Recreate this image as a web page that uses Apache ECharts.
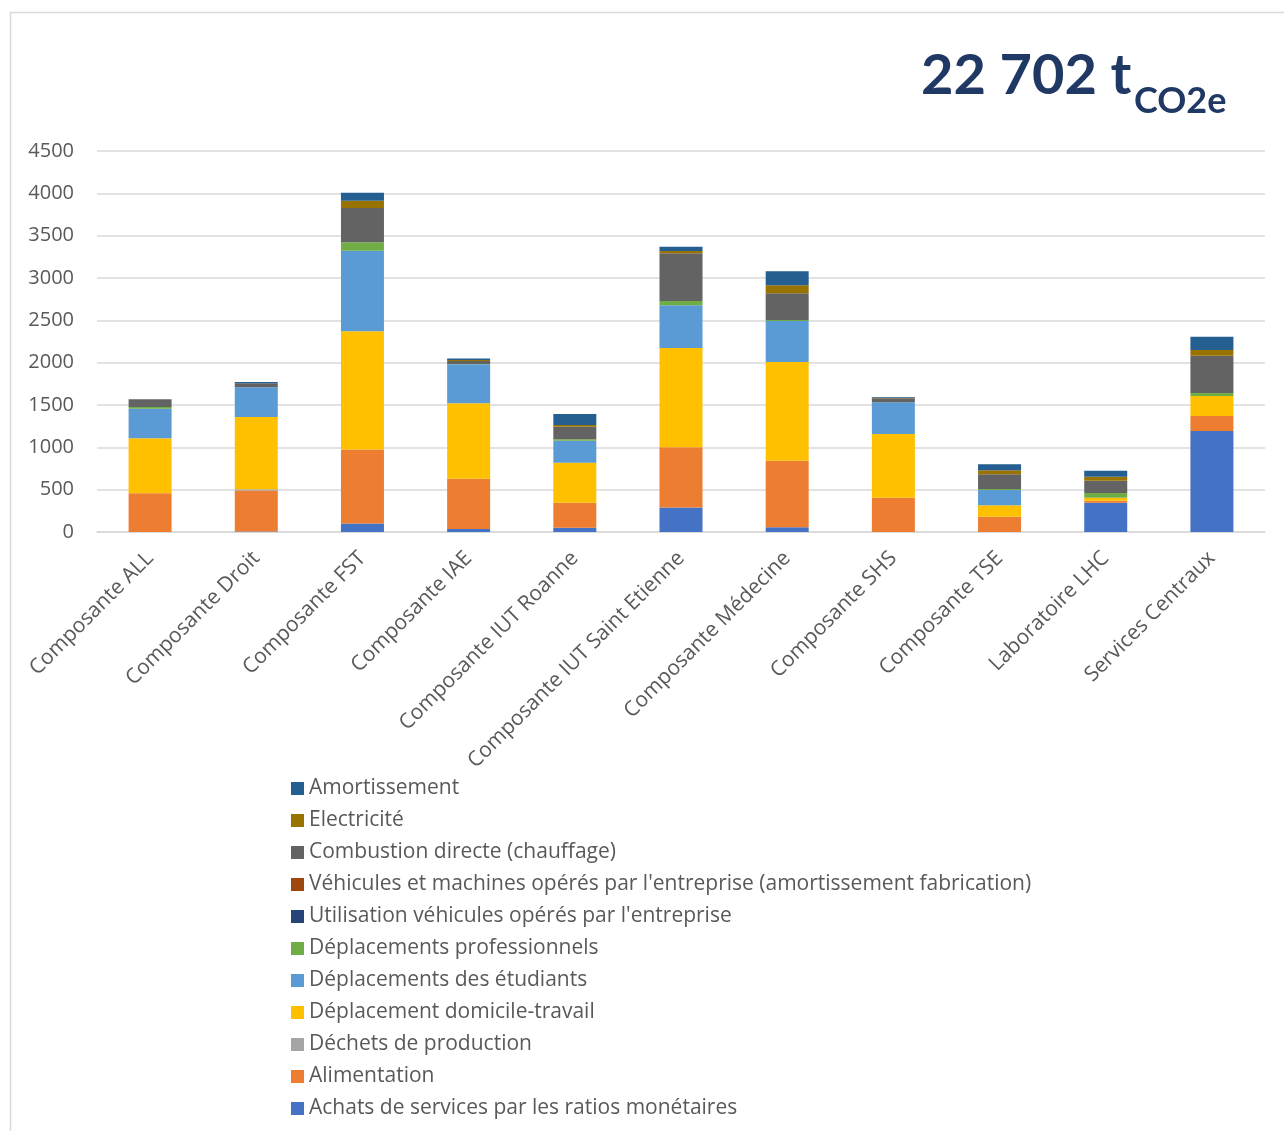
<!DOCTYPE html>
<html>
<head>
<meta charset="utf-8">
<script src="https://cdn.jsdelivr.net/npm/echarts@6/dist/echarts.min.js"></script>
<style>
  html, body { margin: 0; padding: 0; background: #ffffff; }
  #chart { width: 1284px; height: 1131px; }
</style>
</head>
<body>
<div id="chart"></div>
<script>
// Entities (x axis)
const categories = [
  'Composante ALL', 'Composante Droit', 'Composante FST', 'Composante IAE',
  'Composante IUT Roanne', 'Composante IUT Saint Etienne', 'Composante Médecine',
  'Composante SHS', 'Composante TSE', 'Laboratoire LHC', 'Services Centraux'
];

// Emissions per post (tCO2e), stacked bottom to top
const achats        = [0,    5,  100,  35,  50,  290,   55,   0,   0, 346, 1193];
const dechets       = [0,   15,    0,   0,   0,    0,    0,   0,   0,   0,    0];
const alimentation  = [457, 484,  875, 595, 296,  710,  787, 405, 181,  24,  177];
const domicile      = [650, 854, 1397, 890, 473, 1173, 1166, 752, 134,  35,  236];
const etudiants     = [349, 351,  949, 460, 260,  504,  484, 375, 181,   0,    0];
const professionnels= [20,    0,  102,   5,  15,   51,   12,   0,  12,  56,   36];
const utilisation   = [0,    0,    0,   0,   0,    0,    0,   0,   0,   0,    0];
const vehicules     = [0,    0,    0,   0,   0,    0,    0,   0,   0,   0,    0];
const combustion    = [91,  47,  405,  35, 150,  563,  315,  47, 173, 145,  441];
const electricite   = [0,    0,   83,  12,  20,   28,   94,   8,  47,  47,   67];
const amortissement = [0,   16,   95,  18, 130,   51,  166,   7,  71,  71,  157];

const yTicks = { min: 0, max: 4500, interval: 500 };
const totalLabel = '22 702 t';
const totalUnit = 'CO2e';

const seriesDefs = [
  { name: 'Achats de services par les ratios monétaires', data: achats, color: '#4472C4' },
  { name: 'Alimentation', data: alimentation, color: '#ED7D31' },
  { name: 'Déchets de production', data: dechets, color: '#A5A5A5' },
  { name: 'Déplacement domicile-travail', data: domicile, color: '#FFC000' },
  { name: 'Déplacements des étudiants', data: etudiants, color: '#5B9BD5' },
  { name: 'Déplacements professionnels', data: professionnels, color: '#70AD47' },
  { name: 'Utilisation véhicules opérés par l\'entreprise', data: utilisation, color: '#264478' },
  { name: 'Véhicules et machines opérés par l\'entreprise (amortissement fabrication)', data: vehicules, color: '#9E480E' },
  { name: 'Combustion directe (chauffage)', data: combustion, color: '#636363' },
  { name: 'Electricité', data: electricite, color: '#997300' },
  { name: 'Amortissement', data: amortissement, color: '#255E91' }
];

const FONT = '"Open Sans", Lato, sans-serif';
const TITLE_FONT = 'Lato, "Open Sans", sans-serif';
const TEXT_GREY = '#595959';
const GRID_GREY = '#d9d9d9';

const chart = echarts.init(document.getElementById('chart'), null, { renderer: 'canvas' });

chart.setOption({
  backgroundColor: '#ffffff',
  animation: false,
  textStyle: { fontFamily: FONT },
  grid: { left: 97, right: 19, top: 151, bottom: 599, containLabel: false },
  graphic: [
    {
      type: 'rect',
      silent: true,
      shape: { x: 10.5, y: 12.5, width: 1400, height: 1300 },
      style: { fill: null, stroke: GRID_GREY, lineWidth: 1.5 }
    },
    {
      type: 'text',
      left: 921,
      top: 48,
      style: {
        text: totalLabel,
        font: 'bold 56px ' + TITLE_FONT,
        fill: '#203864'
      }
    },
    {
      type: 'text',
      left: 1134,
      top: 83,
      style: {
        text: totalUnit,
        font: 'bold 36px ' + TITLE_FONT,
        fill: '#203864'
      }
    }
  ],
  legend: {
    orient: 'vertical',
    left: 286,
    top: 773,
    icon: 'rect',
    itemWidth: 13,
    itemHeight: 13,
    itemGap: 11,
    data: seriesDefs.map(s => s.name).reverse(),
    textStyle: { fontFamily: FONT, fontSize: 21, color: TEXT_GREY, lineHeight: 21 }
  },
  xAxis: {
    type: 'category',
    data: categories,
    axisTick: { show: false },
    axisLine: { lineStyle: { color: GRID_GREY, width: 1.5 } },
    axisLabel: {
      rotate: 45,
      interval: 0,
      margin: 23,
      fontFamily: FONT,
      fontSize: 21,
      color: TEXT_GREY
    }
  },
  yAxis: {
    type: 'value',
    min: yTicks.min,
    max: yTicks.max,
    interval: yTicks.interval,
    axisLine: { show: false },
    axisTick: { show: false },
    splitLine: { lineStyle: { color: GRID_GREY, width: 1.5 } },
    axisLabel: {
      margin: 23,
      fontFamily: FONT,
      fontSize: 20,
      color: TEXT_GREY,
      formatter: v => String(v)
    }
  },
  series: seriesDefs.map(s => ({
    name: s.name,
    type: 'bar',
    stack: 'total',
    barWidth: 43,
    data: s.data,
    itemStyle: { color: s.color },
    emphasis: { disabled: true }
  }))
});
</script>
</body>
</html>
